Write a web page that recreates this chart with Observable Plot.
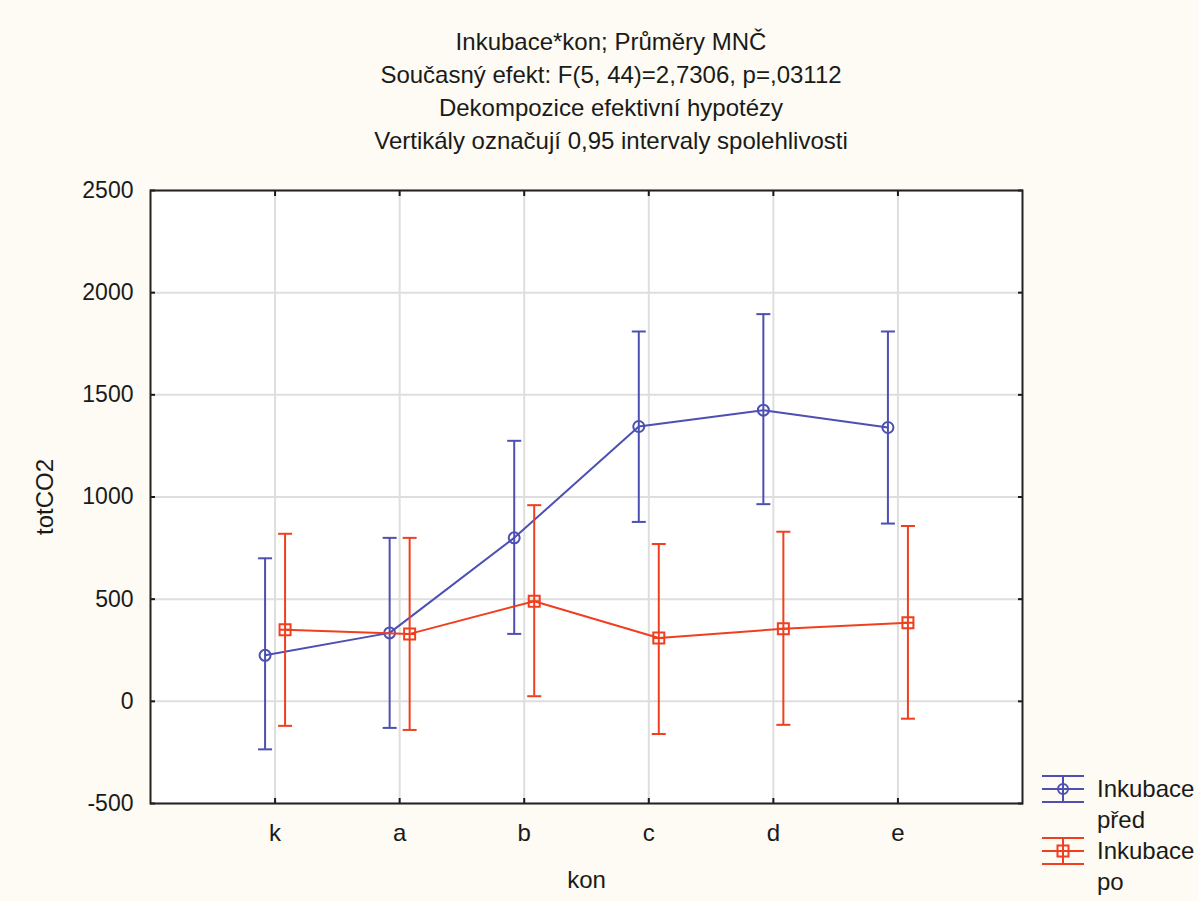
<!DOCTYPE html>
<html>
<head>
<meta charset="utf-8">
<script src="https://cdn.jsdelivr.net/npm/d3@7"></script>
<script src="https://cdn.jsdelivr.net/npm/@observablehq/plot@0.6"></script>
<style>
  html, body { margin: 0; padding: 0; background: #fdfbf3; }
  body { width: 1198px; height: 901px; position: relative; overflow: hidden;
         font-family: "Liberation Sans", Arial, sans-serif; color: #1a1a1a; }
  #title { position: absolute; left: 0; top: 25px; width: 1222px; text-align: center;
           font-size: 24px; line-height: 33px; }
  #chart { position: absolute; left: 0; top: 170px; }
  #legend { position: absolute; left: 1040px; top: 773px; font-size: 24px; line-height: 31px; }
  .li { display: flex; align-items: flex-start; }
  .li svg { margin-right: 11px; margin-top: 0px; }
</style>
</head>
<body>
<div id="title">
  <div>Inkubace*kon; Průměry MNČ</div>
  <div>Současný efekt: F(5, 44)=2,7306, p=,03112</div>
  <div>Dekompozice efektivní hypotézy</div>
  <div>Vertikály označují 0,95 intervaly spolehlivosti</div>
</div>
<div id="chart"></div>
<div id="legend"></div>
<script>
// ---- data ----
const categories = ["k", "a", "b", "c", "d", "e"];
const seriesNames = ["Inkubace před", "Inkubace po"];
const predMean = [225, 335, 800, 1345, 1425, 1340];
const predLow  = [-235, -130, 330, 878, 965, 870];
const predHigh = [700, 800, 1275, 1810, 1895, 1810];
const poMean = [350, 330, 490, 310, 355, 385];
const poLow  = [-120, -140, 25, -160, -115, -85];
const poHigh = [820, 800, 960, 770, 830, 858];
const yTicks = [-500, 0, 500, 1000, 1500, 2000, 2500];

const colors = {"Inkubace před": "#4d50b2", "Inkubace po": "#f03f1f"};
const offsets = {"Inkubace před": -10, "Inkubace po": 10};

const rows = [];
categories.forEach((c, i) => {
  rows.push({series: seriesNames[0], pos: i + 1, mean: predMean[i], lo: predLow[i], hi: predHigh[i]});
  rows.push({series: seriesNames[1], pos: i + 1, mean: poMean[i], lo: poLow[i], hi: poHigh[i]});
});
const positions = categories.map((c, i) => i + 1);

const capSymbol = { draw(ctx, size) { const w = 7; ctx.moveTo(-w, 0); ctx.lineTo(w, 0); } };
const crossSquare = { draw(ctx, size) {
  const s = 5.5;
  ctx.moveTo(-s, -s); ctx.lineTo(s, -s); ctx.lineTo(s, s); ctx.lineTo(-s, s); ctx.closePath();
  ctx.moveTo(-s, 0); ctx.lineTo(s, 0);
} };
const circleSym = { draw(ctx, size) { const r = 5.5; ctx.moveTo(r, 0); ctx.arc(0, 0, r, 0, 2 * Math.PI); } };

const seriesMarks = seriesNames.flatMap(name => {
  const d = rows.filter(r => r.series === name);
  const col = colors[name], dx = offsets[name];
  return [
    Plot.line(d, {x: "pos", y: "mean", stroke: col, strokeWidth: 2, dx}),
    Plot.ruleX(d, {x: "pos", y1: "lo", y2: "hi", stroke: col, strokeWidth: 2, dx}),
    Plot.dot(d, {x: "pos", y: "lo", symbol: capSymbol, stroke: col, strokeWidth: 2, fill: "none", dx}),
    Plot.dot(d, {x: "pos", y: "hi", symbol: capSymbol, stroke: col, strokeWidth: 2, fill: "none", dx}),
    Plot.dot(d, {x: "pos", y: "mean", symbol: name === seriesNames[0] ? circleSym : crossSquare,
                 stroke: col, strokeWidth: 2, fill: "none", dx})
  ];
});

const chart = Plot.plot({
  width: 1198,
  height: 731,
  marginTop: 20,
  marginBottom: 98,
  marginLeft: 150,
  marginRight: 176,
  style: {background: "transparent", fontFamily: "Liberation Sans, Arial, sans-serif", color: "#1a1a1a", overflow: "visible"},
  x: {domain: [0, 7]},
  y: {domain: [-500, 2500]},
  marks: [
    Plot.frame({fill: "white"}),
    Plot.gridX(positions, {stroke: "#dedede", strokeOpacity: 1, strokeWidth: 2}),
    Plot.gridY(yTicks, {stroke: "#dedede", strokeOpacity: 1, strokeWidth: 2}),
    Plot.axisX(positions, {anchor: "bottom", tickSize: 0, tickPadding: 20, fontSize: 24,
                           tickFormat: p => categories[p - 1], label: null}),
    Plot.axisX(positions, {anchor: "bottom", tickSize: -5, strokeWidth: 2, text: null, label: null}),
    Plot.axisX(positions, {anchor: "top", tickSize: -5, strokeWidth: 2, text: null, label: null}),
    Plot.axisY(yTicks, {anchor: "left", tickSize: 0, tickPadding: 17, fontSize: 23, label: null, tickFormat: d => String(d)}),
    Plot.axisY(yTicks, {anchor: "left", tickSize: -5, strokeWidth: 2, text: null, label: null}),
    Plot.axisY(yTicks, {anchor: "right", tickSize: -5, strokeWidth: 2, text: null, label: null}),
    ...seriesMarks,
    Plot.frame({stroke: "#222", strokeWidth: 2}),
    Plot.text(["kon"], {frameAnchor: "bottom", lineAnchor: "middle", dy: 77, fontSize: 24, fill: "#1a1a1a"}),
    Plot.text(["totCO2"], {frameAnchor: "left", textAnchor: "middle", lineAnchor: "middle", dx: -105, rotate: -90, fontSize: 24, fill: "#1a1a1a"})
  ]
});
document.getElementById("chart").appendChild(chart);

// legend
const legend = document.getElementById("legend");
const legendLines = [["Inkubace", "před"], ["Inkubace", "po"]];
seriesNames.forEach((name, i) => {
  const col = colors[name];
  const marker = i === 0
    ? `<circle cx="23" cy="16" r="5" fill="none" stroke="${col}" stroke-width="2"/>`
    : `<rect x="17.5" y="10.5" width="11" height="11" fill="none" stroke="${col}" stroke-width="2"/>`;
  const div = document.createElement("div");
  div.className = "li";
  div.innerHTML = `<svg width="46" height="32" viewBox="0 0 46 32">
      <line x1="2" y1="3" x2="44" y2="3" stroke="${col}" stroke-width="2"/>
      <line x1="2" y1="16" x2="44" y2="16" stroke="${col}" stroke-width="2"/>
      <line x1="2" y1="29" x2="44" y2="29" stroke="${col}" stroke-width="2"/>
      <line x1="23" y1="3" x2="23" y2="29" stroke="${col}" stroke-width="2"/>
      ${marker}
    </svg><div>${legendLines[i][0]}<br>${legendLines[i][1]}</div>`;
  legend.appendChild(div);
});
</script>
</body>
</html>
